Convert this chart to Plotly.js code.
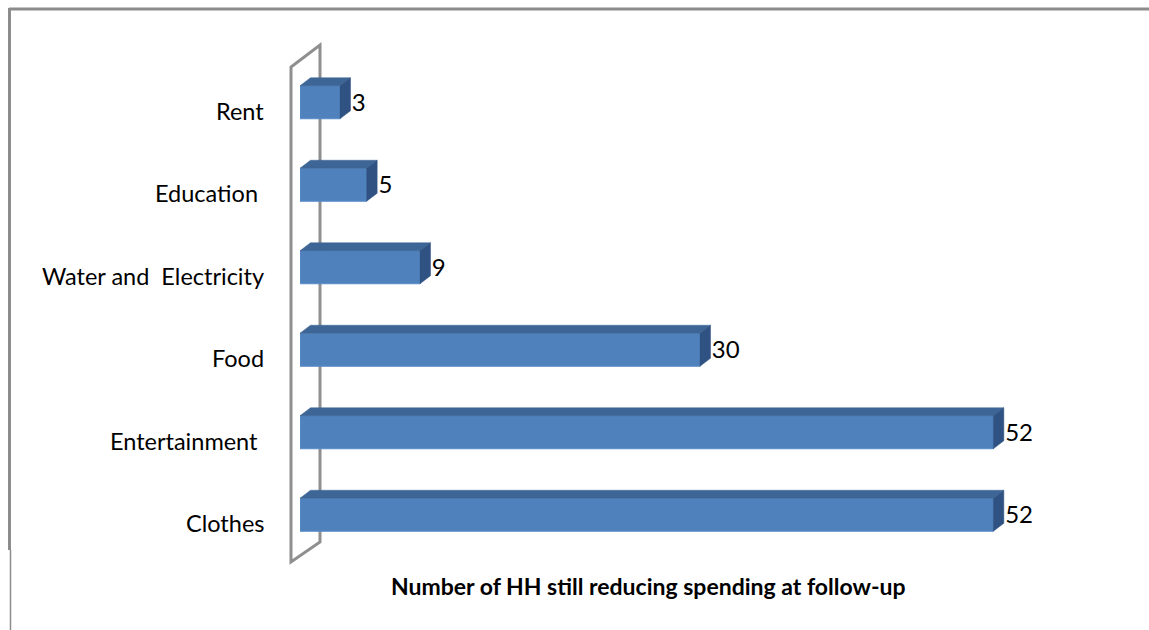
<!DOCTYPE html>
<html>
<head>
<meta charset="utf-8">
<script src="https://cdn.plot.ly/plotly-3.0.1.min.js"></script>
<style>html,body{margin:0;padding:0;background:#fff;}#chart{width:1149px;height:630px;}</style>
</head>
<body>
<div id="chart"></div>
<script>
// Data (bottom to top)
const categories = ["Clothes", "Entertainment ", "Food", "Water and  Electricity", "Education ", "Rent"];
const values = [52, 52, 30, 9, 5, 3];
const valueLabels = ["52", "52", "30", "9", "5", "3"];
const axisTitle = "Number of HH still reducing spending at follow-up";

// geometry (pixel-based layout)
const W = 1149, H = 630;
const plotL = 300, plotR = 1100, plotT = 61, plotB = 556;
const xMax = 60;
const pxPerX = (plotR - plotL) / xMax;
const pxPerY = (plotB - plotT) / 6;
const barH = 0.4;
const dx = 10.5 / pxPerX;
const dy = 8 / pxPerY;

const front = "#4f81bd", topC = "#3d6595", sideC = "#2f5282";
const idx = categories.map((_, i) => i);
const fontFam = "Lato, 'Open Sans', sans-serif";

const traces = [];
// top and side faces
values.forEach((v, i) => {
  const yt = i + barH / 2, yb = i - barH / 2;
  traces.push({
    type: "scatter", mode: "lines", fill: "toself", fillcolor: topC,
    line: {width: 0.5, color: topC}, hoverinfo: "skip", showlegend: false,
    x: [0, v, v + dx, dx, 0], y: [yt, yt, yt + dy, yt + dy, yt]
  });
  traces.push({
    type: "scatter", mode: "lines", fill: "toself", fillcolor: sideC,
    line: {width: 0.5, color: sideC}, hoverinfo: "skip", showlegend: false,
    x: [v, v, v + dx, v + dx, v], y: [yb, yt, yt + dy, yb + dy, yb]
  });
});
// front faces
traces.push({
  type: "bar", orientation: "h", x: values, y: idx, width: barH,
  marker: {color: front, line: {width: 1, color: "#5a8cc8"}},
  hoverinfo: "x+y", showlegend: false
});
// value labels
traces.push({
  type: "scatter", mode: "text", x: values.map(v => v + dx + 0.1), y: idx.map(i => i - 0.03),
  text: valueLabels, textposition: "middle right",
  textfont: {family: fontFam, size: 24, color: "#000"},
  hoverinfo: "skip", showlegend: false, cliponaxis: false
});

const px2x = p => (p - plotL) / (plotR - plotL);
const px2y = p => (plotB - p) / (plotB - plotT);

const annotations = categories.map((c, i) => ({
  text: c.replace(/ $/, "&nbsp;"), xref: "paper", yref: "y", x: px2x(266), y: i - 0.1,
  xanchor: "right", yanchor: "middle", showarrow: false,
  font: {family: fontFam, size: 23.5, color: "#000"}
}));
annotations.push({
  text: "<b>" + axisTitle + "</b>", xref: "paper", yref: "paper",
  x: px2x(648), y: px2y(586), xanchor: "center", yanchor: "middle", showarrow: false,
  font: {family: fontFam, size: 23, color: "#000"}
});

const wallCol = "#8f8f8f";
const shapes = [
  // chart border
  {type: "line", xref: "paper", yref: "paper", x0: px2x(9), x1: px2x(1152), y0: px2y(9), y1: px2y(9), line: {color: "#8c8c8c", width: 3}},
  {type: "line", xref: "paper", yref: "paper", x0: px2x(9.5), x1: px2x(9.5), y0: px2y(8), y1: px2y(550), line: {color: "#8c8c8c", width: 3}},
  {type: "line", xref: "paper", yref: "paper", x0: px2x(10.5), x1: px2x(10.5), y0: px2y(550), y1: px2y(632), line: {color: "#8c8c8c", width: 1.5}},
  // wall (side panel)
  {type: "path", xref: "paper", yref: "paper", layer: "below",
   path: "M " + px2x(291) + " " + px2y(562) + " L " + px2x(291) + " " + px2y(67) +
         " L " + px2x(320) + " " + px2y(45) + " L " + px2x(320) + " " + px2y(542) + " Z",
   line: {color: wallCol, width: 3}}
];

const layout = {
  width: W, height: H,
  margin: {l: plotL, r: W - plotR, t: plotT, b: H - plotB, pad: 0},
  paper_bgcolor: "#fff", plot_bgcolor: "rgba(0,0,0,0)",
  xaxis: {range: [0, xMax], showgrid: false, zeroline: false, showticklabels: false, showline: false, ticks: ""},
  yaxis: {range: [-0.5, 5.5], showgrid: false, zeroline: false, showticklabels: false, showline: false, ticks: ""},
  annotations: annotations, shapes: shapes, showlegend: false
};

Plotly.newPlot("chart", traces, layout, {displayModeBar: false, staticPlot: true});
</script>
</body>
</html>
